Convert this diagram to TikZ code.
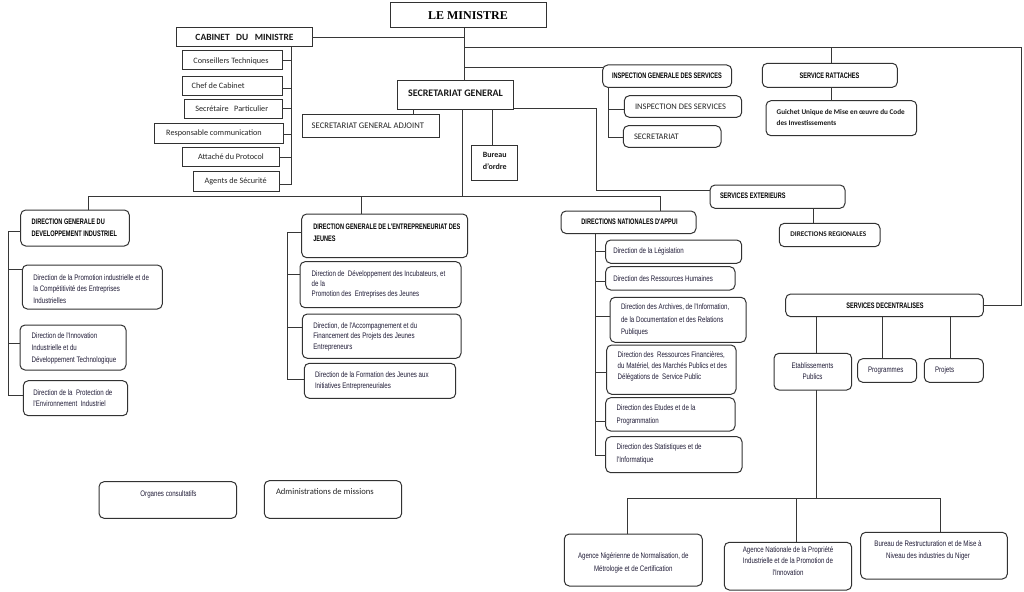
\documentclass[tikz,border=0pt]{standalone}
\usepackage{fontspec}
\setmainfont{Carlito}
\newfontfamily\condR[FakeStretch=0.77]{Liberation Sans}
\newfontfamily\condB[FakeStretch=0.70]{Liberation Sans}
\newfontfamily\serifB{Liberation Serif}
\definecolor{linec}{RGB}{55,55,55}
\definecolor{boxc}{RGB}{50,50,50}
\definecolor{txtc}{RGB}{32,28,55}
\newcommand\ibox[6]{\node[#6, minimum width={(#4-#2)*1pt}, minimum height={(#5-#3)*1pt}] (#1) at ({(#2+#4)/2},{(#3+#5)/2}) {};}
\newcommand\itext[5]{\node[tx,anchor=#2,#4] (#1) at (#3) {#5};}
\begin{document}
\begin{tikzpicture}[x=1pt,y=-1pt,
  sq/.style={draw=boxc, line width=1pt, inner sep=0pt, outer sep=0pt},
  rd/.style={sq, rounded corners=5pt},
  conn/.style={draw=linec, line width=1pt},
  tx/.style={inner sep=0pt, outer sep=0pt, align=left},
  cr/.style={font={\condR\fontsize{8}{#1}\selectfont}, text=txtc},
  cr/.default=11.5,
  cb/.style={font={\condB\bfseries\fontsize{8}{#1}\selectfont}, text=black},
  cb/.default=11.6,
  ca/.style={font={\fontsize{#1}{11.7}\selectfont}, text=black!85},
  ca/.default=8.2,
  cab/.style={font={\bfseries\fontsize{#1}{11.7}\selectfont}, text=black!90},
  cab/.default=8]
\fill[white] (0,0) rectangle (1024,591);
\useasboundingbox (0,0) rectangle (1024,591);

% ---------- boxes ----------
\ibox{min}{390.5}{3}{546}{28}{sq}
\ibox{cab}{176.5}{28}{312}{47}{sq}
\ibox{ct}{182.3}{50.7}{282.7}{70}{sq}
\ibox{cc}{182.3}{76.7}{282.3}{95.7}{sq}
\ibox{sp}{184.3}{100}{282.3}{118.3}{sq}
\ibox{rc}{154}{123.3}{283.3}{143.3}{sq}
\ibox{ap}{182.3}{147.7}{279.3}{166.7}{sq}
\ibox{as}{193.3}{171}{279.3}{191.7}{sq}
\ibox{sg}{397.3}{80.7}{513.3}{109.3}{sq}
\ibox{sga}{302.3}{115}{439.3}{137.7}{sq}
\ibox{bo}{471.7}{145}{517.7}{180}{sq}
\ibox{igs}{602.7}{65}{731.7}{87.3}{rd}
\ibox{ids}{624.3}{95.7}{741.7}{117.3}{rd}
\ibox{sec}{623.3}{125.7}{721}{147.3}{rd}
\ibox{sr}{762.3}{63.3}{897.3}{87.3}{rd}
\ibox{gu}{766}{100.7}{916.7}{135.7}{rd}
\ibox{se}{710}{185}{845}{208.3}{rd}
\ibox{dr}{779.3}{223.3}{880}{246.7}{rd}
\ibox{dna}{561}{211}{696}{233.5}{rd}
\ibox{d1}{605.7}{240}{741.7}{263.3}{rd}
\ibox{d2}{605.7}{266.7}{735}{290}{rd}
\ibox{d3}{610}{297.3}{746}{342.3}{rd}
\ibox{d4}{606.7}{345}{736}{394.3}{rd}
\ibox{d5}{605.7}{397.7}{735}{431}{rd}
\ibox{d6}{605.7}{436.7}{742}{472.7}{rd}
\ibox{sd}{785.7}{294}{983.3}{316.7}{rd}
\ibox{ep}{774}{353.3}{851.7}{390}{rd}
\ibox{pg}{857.7}{358.7}{916.7}{382.3}{rd}
\ibox{pj}{924.3}{358.7}{983.3}{382.3}{rd}
\ibox{a1}{564.3}{534}{702.3}{586}{rd}
\ibox{a2}{724.3}{542.3}{851.7}{590}{rd}
\ibox{a3}{860.7}{532.3}{1007.3}{579}{rd}
\ibox{oc}{99}{481.7}{236.7}{518.3}{rd}
\ibox{am}{264.3}{480.7}{401.7}{518.3}{rd}
\ibox{dg1}{20.7}{210}{129.3}{246}{rd}
\ibox{g11}{22.3}{265}{162.3}{309}{rd}
\ibox{g12}{20}{325}{126}{370}{rd}
\ibox{g13}{23.3}{380.7}{127.7}{415.7}{rd}
\ibox{dg2}{301.7}{214}{467.7}{257.7}{rd}
\ibox{g21}{300}{261.7}{461}{307.7}{rd}
\ibox{g22}{302.3}{314}{461}{358.3}{rd}
\ibox{g23}{304.3}{363.3}{455.7}{398.3}{rd}

% ---------- texts ----------
\itext{tmin}{center}{468,15.5}{font={\serifB\bfseries\fontsize{12}{14}\selectfont}}{LE MINISTRE}
\itext{tcab}{center}{244.5,37.5}{cab=9.5}{CABINET\ \ \ DU\ \ \ MINISTRE}
\itext{tct}{center}{231,61}{ca}{Conseillers Techniques}
\itext{tcc}{west}{191.7,86}{ca}{Chef de Cabinet}
\itext{tsp}{center}{231.7,109}{ca}{Secrétaire\ \ \ Particulier}
\itext{trc}{center}{214,133.5}{ca}{Responsable communication}
\itext{tap}{center}{231,157}{ca}{Attaché du Protocol}
\itext{tas}{center}{235.7,181.5}{ca}{Agents de Sécurité}
\itext{tsg}{center}{455.5,93}{cab=10}{SECRETARIAT GENERAL}
\itext{tsga}{west}{311.7,126}{ca=8.6}{SECRETARIAT GENERAL ADJOINT}
\itext{tbo}{center}{494.7,161}{cab=8,align=center}{Bureau\\d’ordre}
\itext{tigs}{center}{667,76}{cb}{INSPECTION GENERALE DES SERVICES}
\itext{tids}{west}{635,106.5}{ca=8.5}{INSPECTION DES SERVICES}
\itext{tsec}{west}{634,136.5}{ca=8.5}{SECRETARIAT}
\itext{tsr}{center}{829.5,75.5}{cb}{SERVICE RATTACHES}
\itext{tgu}{west}{776.7,117.5}{cab=7.2}{Guichet Unique de Mise en œuvre du Code\\des Investissements}
\itext{tse}{west}{720,196}{cb}{SERVICES EXTERIEURS}
\itext{tdr}{center}{828.3,234.5}{cab=7.2}{DIRECTIONS REGIONALES}
\itext{tdna}{center}{629.5,222}{cb}{DIRECTIONS NATIONALES D'APPUI}
\itext{td1}{west}{613.3,251.7}{cr}{Direction de la Législation}
\itext{td2}{west}{613.3,278.3}{cr}{Direction des Ressources Humaines}
\itext{td3}{west}{621,320.3}{cr=12.5}{Direction des Archives, de l'Information,\\de la Documentation et des Relations\\Publiques}
\itext{td4}{west}{617.7,366.7}{cr=11}{Direction des\ \ Ressources Financières,\\du Matériel, des Marchés Publics et des\\Délégations de\ \ Service Public}
\itext{td5}{west}{616.7,414.7}{cr=12.7}{Direction des Etudes et de la\\Programmation}
\itext{td6}{west}{616.7,453.8}{cr=12.3}{Direction des Statistiques et de\\l'Informatique}
\itext{tsd}{center}{885,305.3}{cb}{SERVICES DECENTRALISES}
\itext{tep}{center}{812.5,371}{cr=11.7,align=center}{Etablissements\\Publics}
\itext{tpg}{center}{885.7,370.5}{cr}{Programmes}
\itext{tpj}{west}{935,370.5}{cr}{Projets}
\itext{ta1}{center}{633.3,562.7}{cr=13.3,align=center}{Agence Nigérienne de Normalisation, de\\Métrologie et de Certification}
\itext{ta2}{center}{788,561}{cr=11.7,align=center}{Agence Nationale de la Propriété\\Industrielle et de la Promotion de\\l'Innovation}
\itext{ta3}{center}{928,550.2}{cr=11.7,align=center}{Bureau de Restructuration et de Mise à\\Niveau des industries du Niger}
\itext{toc}{center}{168.5,494}{cr}{Organes consultatifs}
\itext{tam}{west}{276,492}{ca=8.6}{Administrations de missions}
\itext{tdg1}{west}{31.7,227.5}{cb}{DIRECTION GENERALE DU\\DEVELOPPEMENT INDUSTRIEL}
\itext{tg11}{west}{33.3,289}{cr=11.7}{Direction de la Promotion industrielle et de\\la Compétitivité des Entreprises\\Industrielles}
\itext{tg12}{west}{31.7,348.7}{cr=12}{Direction de l'Innovation\\Industrielle et du\\Développement Technologique}
\itext{tg13}{west}{33.3,398.3}{cr=11.3}{Direction de la\ \ Protection de\\l'Environnement\ \ Industriel}
\itext{tdg2}{west}{313.3,232.5}{cb}{DIRECTION GENERALE DE L'ENTREPRENEURIAT DES\\JEUNES}
\itext{tg21}{west}{311.7,284.2}{cr=10}{Direction de\ \ Développement des Incubateurs, et\\de la\\Promotion des\ \ Entreprises des Jeunes}
\itext{tg22}{west}{313.3,336.7}{cr=10.7}{Direction, de l'Accompagnement et du\\Financement des Projets des Jeunes\\Entrepreneurs}
\itext{tg23}{west}{315,380.8}{cr=11.7}{Direction de la Formation des Jeunes aux\\Initiatives Entrepreneuriales}

% ---------- connectors ----------
% minister trunk
\draw[conn] (464,0 |- min.south) -- (464,0 |- sg.north);
\draw[conn] (cab.east) -- (cab.east -| 464,0);
\draw[conn] (464,47.5) -- (1021,47.5) |- (sd.east);
\draw[conn] (831,47.5) -- (831,0 |- sr.north);
\draw[conn] (464,68) -- (igs.west |- 0,68);
% cabinet
\draw[conn] (291.7,0 |- cab.south) -- (291.7,184.3);
\draw[conn] (291.7,61) -- (ct.east |- 0,61);
\draw[conn] (291.7,88.3) -- (cc.east |- 0,88.3);
\draw[conn] (291.7,109) -- (sp.east |- 0,109);
\draw[conn] (291.7,134) -- (rc.east |- 0,134);
\draw[conn] (291.7,157.7) -- (ap.east |- 0,157.7);
\draw[conn] (291.7,184.3) -- (as.east |- 0,184.3);
% secretariat general
\draw[conn] (413.3,0 |- sg.south) -- (413.3,0 |- sga.north);
\draw[conn] (492.3,0 |- sg.south) -- (492.3,0 |- bo.north);
\draw[conn] (462.7,0 |- sg.south) -- (462.7,196);
\draw[conn] (88,0 |- dg1.north) -- (88,196) -- (660,196) -- (660,0 |- dna.north);
\draw[conn] (361.7,196) -- (361.7,0 |- dg2.north);
\draw[conn] (sg.east |- 0,108.3) -- (596.7,108.3) -- (596.7,190.7) -- (se.west |- 0,190.7);
% inspection
\draw[conn] (608.3,0 |- igs.south) -- (608.3,137.7) -- (sec.west |- 0,137.7);
\draw[conn] (608.3,110) -- (ids.west |- 0,110);
% rattaches, exterieurs
\draw[conn] (831,0 |- sr.south) -- (831,0 |- gu.north);
\draw[conn] (813.3,0 |- se.south) -- (813.3,0 |- dr.north);
% directions nationales
\draw[conn] (595,0 |- dna.south) -- (595,455) -- (d6.west |- 0,455);
\draw[conn] (595,251.7) -- (d1.west |- 0,251.7);
\draw[conn] (595,281.7) -- (d2.west |- 0,281.7);
\draw[conn] (595,316.7) -- (d3.west |- 0,316.7);
\draw[conn] (595,372.7) -- (d4.west |- 0,372.7);
\draw[conn] (595,421) -- (d5.west |- 0,421);
% DG1
\draw[conn] (dg1.west |- 0,231.7) -- (8.3,231.7) -- (8.3,395) -- (g13.west |- 0,395);
\draw[conn] (8.3,269.3) -- (g11.west |- 0,269.3);
\draw[conn] (8.3,343.3) -- (g12.west |- 0,343.3);
% DG2
\draw[conn] (dg2.west |- 0,232.3) -- (287.7,232.3) -- (287.7,379) -- (g23.west |- 0,379);
\draw[conn] (287.7,274) -- (g21.west |- 0,274);
\draw[conn] (287.7,327.7) -- (g22.west |- 0,327.7);
% decentralises
\draw[conn] (816.7,0 |- sd.south) -- (816.7,0 |- ep.north);
\draw[conn] (882.3,0 |- sd.south) -- (882.3,0 |- pg.north);
\draw[conn] (950.7,0 |- sd.south) -- (950.7,0 |- pj.north);
\draw[conn] (816.7,0 |- ep.south) -- (816.7,498);
\draw[conn] (627.3,0 |- a1.north) -- (627.3,498) -- (940.7,498) -- (940.7,0 |- a3.north);
\draw[conn] (796.7,498) -- (796.7,0 |- a2.north);
\end{tikzpicture}
\end{document}
